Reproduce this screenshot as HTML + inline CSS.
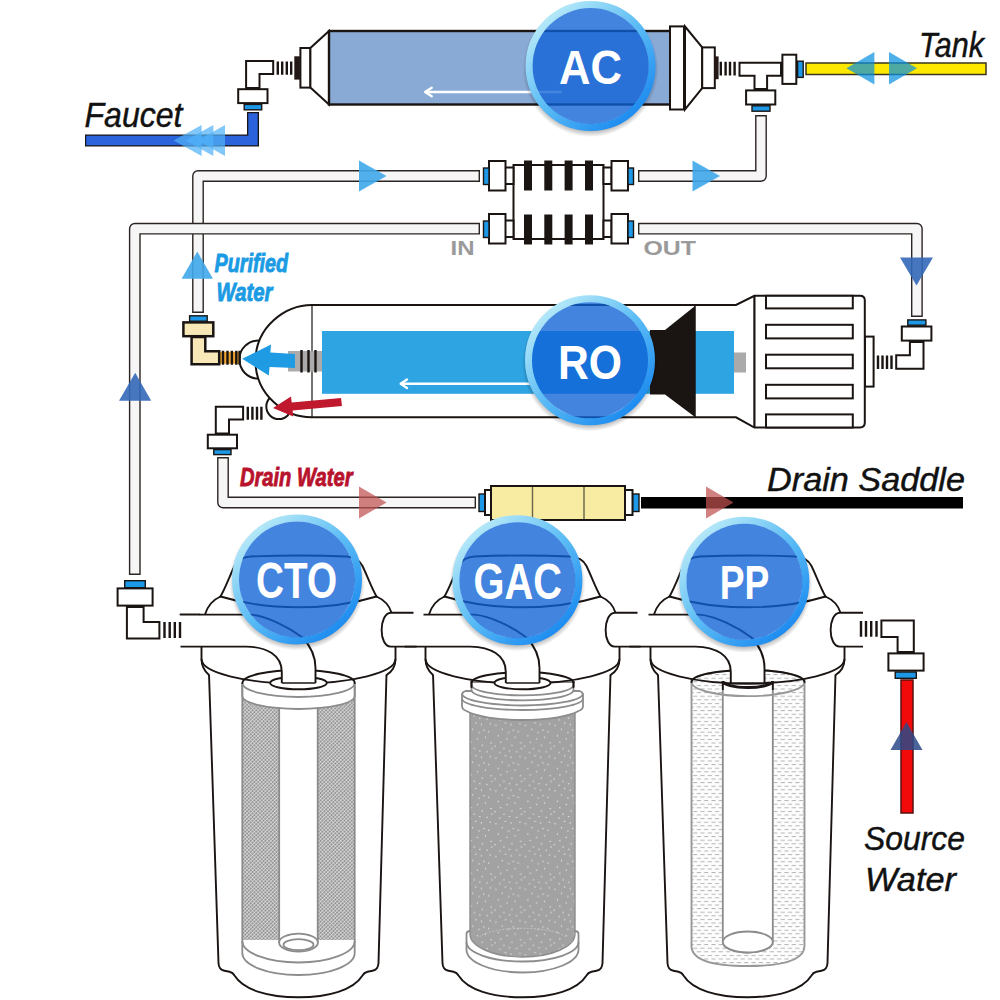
<!DOCTYPE html>
<html><head><meta charset="utf-8">
<style>
html,body{margin:0;padding:0;background:#fff;}
body{width:1000px;height:1000px;overflow:hidden;font-family:"Liberation Sans",sans-serif;}
svg{display:block;}
text{font-family:"Liberation Sans",sans-serif;}
.k{stroke:#1a1412;stroke-width:2;fill:#fff;stroke-linejoin:miter;}
.kl{stroke:#1a1412;stroke-width:2;fill:none;stroke-linejoin:round;stroke-linecap:round;}
.pipe{stroke:#2a2422;stroke-width:1.6;fill:#f6f6f6;stroke-linejoin:round;}
.bl{fill:#1c98e6;stroke:#1a1412;stroke-width:1.4;}
.thr{stroke:#1a1412;stroke-width:2.4;fill:none;}
.lbl{font-style:italic;font-size:33px;fill:#111;stroke:#111;stroke-width:0.45;}
.g{stroke:#8c8c8c;stroke-width:1.8;fill:#fff;}
.gl{stroke:#8c8c8c;stroke-width:1.8;fill:none;}
</style></head><body>
<svg width="1000" height="1000" viewBox="0 0 1000 1000">
<defs>
<linearGradient id="ring" x1="0.15" y1="0.1" x2="0.85" y2="0.9">
<stop offset="0" stop-color="#b4e8f8"/><stop offset="0.5" stop-color="#5bbcf5"/><stop offset="1" stop-color="#1e8cf0"/>
</linearGradient>
<radialGradient id="shad" cx="0.5" cy="0.5" r="0.5">
<stop offset="0.86" stop-color="#000" stop-opacity="0.42"/><stop offset="1" stop-color="#000" stop-opacity="0"/>
</radialGradient>
<clipPath id="outside"><path d="M-100 -100 H100 V100 H-100 Z M0 -64 A64 64 0 1 0 0 64 A64 64 0 1 0 0 -64 Z" clip-rule="evenodd"/></clipPath>
<g id="badge">
<circle cx="0" cy="3" r="68" fill="url(#shad)" clip-path="url(#outside)"/>
<circle cx="0" cy="0" r="61.4" fill="none" stroke="url(#ring)" stroke-width="7.2"/>
<circle cx="0" cy="0" r="58" fill="#0e62d6" fill-opacity="0.78"/>
</g>
<!--DEFS-->
</defs>
<rect width="1000" height="1000" fill="#fff"/>
<defs>
<pattern id="mesh" width="2.6" height="2.6" patternUnits="userSpaceOnUse" patternTransform="rotate(45)">
<rect width="2.6" height="2.6" fill="#969696"/>
<path d="M0 0 H2.6 M0 0 V2.6" stroke="#f2f2f2" stroke-width="1.05"/>
</pattern>
<pattern id="speck" width="37" height="41" patternTransform="scale(0.8)" patternUnits="userSpaceOnUse">
<rect width="37" height="41" fill="#a2a2a2"/>
<g fill="#f4f4f4">
<rect x="3" y="4" width="1.4" height="1.4"/><rect x="11" y="9" width="1.4" height="1.4"/><rect x="22" y="3" width="1.4" height="1.4"/><rect x="31" y="12" width="1.4" height="1.4"/>
<rect x="6" y="17" width="1.4" height="1.4"/><rect x="17" y="21" width="1.4" height="1.4"/><rect x="27" y="19" width="1.4" height="1.4"/><rect x="34" y="26" width="1.4" height="1.4"/>
<rect x="2" y="30" width="1.4" height="1.4"/><rect x="13" y="33" width="1.4" height="1.4"/><rect x="23" y="29" width="1.4" height="1.4"/><rect x="29" y="37" width="1.4" height="1.4"/>
<rect x="8" y="38" width="1.4" height="1.4"/><rect x="19" y="13" width="1.4" height="1.4"/><rect x="15" y="1" width="1.4" height="1.4"/><rect x="33" y="2" width="1.4" height="1.4"/>
<rect x="25" y="10" width="1.4" height="1.4"/><rect x="9" y="25" width="1.4" height="1.4"/><rect x="20" y="36" width="1.4" height="1.4"/><rect x="35" y="33" width="1.4" height="1.4"/>
</g>
</pattern>
<pattern id="dash" width="7.3" height="7.2" patternUnits="userSpaceOnUse">
<rect width="7.3" height="7.2" fill="#fdfdfd"/>
<rect x="0.4" y="1" width="4.2" height="0.9" fill="#adadad"/>
<rect x="4" y="4.6" width="4.2" height="0.9" fill="#adadad"/>
<rect x="-3.3" y="4.6" width="4.2" height="0.9" fill="#adadad"/>
</pattern>
<!-- housing: local x origin at centre -->
<g id="hbowl">
<path d="M-89.5 674 L-80 963 C-79.8 968 -78 970 -74 970.8 L-69 971.8 C-66 972.5 -65 973.5 -64 975.5 C-55 990 -30 997.3 0 997.3 C30 997.3 55 990 64 975.5 C65 973.5 66 972.5 69 971.8 L74 970.8 C78 970 79.8 968 80 963 L88 674 Z" fill="#fff" stroke="#1a1412" stroke-width="1.9" stroke-linejoin="round"/>
</g>
<g id="hcap">
<!-- silhouette fill -->
<path d="M-64 566 C-61 560 -56 557 -48 556.5 Q0 554.5 48 556.5 C56 557 61 560 64 566 C68 574 73 588 78 596.5 C86 600 91 606 93 612.8 H97 V659 C97 668 93 672 88 675 Q0 700 -89.5 675 C-93 672 -97 668 -97 659 V614.6 H-93.5 C-91 606 -86 600 -78 596.5 C-73 588 -68 574 -64 566 Z" fill="#fff" stroke="none"/>
<g fill="none" stroke="#1a1412" stroke-width="1.9" stroke-linecap="round" stroke-linejoin="round">
<!-- neck -->
<path d="M-78 596.5 C-73 588 -68 574 -64 566 C-61 560 -56 557 -48 556.5 Q0 554.5 48 556.5 C56 557 61 560 64 566 C68 574 73 588 78 596.5"/>
<path d="M-78 596.5 C-50 605 -25 607.3 0 607.3 C25 607.3 50 605 78 596.5"/>
<!-- shoulders -->
<path d="M-78 596.5 C-86 600 -91 606 -93.5 614.6"/>
<path d="M78 596.5 C86 600 91 606 93 612.8"/>
<!-- lower body sides -->
<path d="M-97 646.6 V659 C-97 668 -93 672 -89.5 675"/>
<path d="M97 646.6 V659 C97 668 93 672 88 675"/>
</g>
</g>
<path id="harc" d="M-97 659 A97 24.5 0 0 0 97 659" fill="none" stroke="#1a1412" stroke-width="1.9"/>
<g id="htube">
<path d="M-99 614.6 H-48 C-32 616 -10 627 4 637.5 C12 646 17 656 17 668 V683 H-16.7 V672 C-16.7 655 -32 647 -52 646.6 H-99 Z" fill="#fff" stroke="none"/>
<g fill="none" stroke="#1a1412" stroke-width="1.9" stroke-linecap="butt" stroke-linejoin="round">
<path d="M-99 614.6 H-48 C-32 616 -10 627 4 637.5 C12 646 17 656 17 668 V683"/>
<path d="M-118 646.6 H-52 C-32 647 -16.7 655 -16.7 672 V683"/>
<path d="M-16.7 683 H17" stroke-width="1.6"/>
</g>
</g>
<g id="hport">
<path d="M116 612.8 H92.5 C80 613 80 647 92.5 646.6 H118 V612.8 Z" fill="#fff" stroke="none"/>
<path d="M115 612.8 H92.5 C80 613 80 647 92.5 646.6 H118" fill="none" stroke="#1a1412" stroke-width="1.9"/>
</g>
</defs>
<!-- PIPES -->
<g fill="none" stroke-linejoin="round">
<!-- purified pipe: RO elbow up to connector top-left -->
<path d="M198 313 V176 H480" stroke="#2a2422" stroke-width="11.8"/>
<path d="M198 311.6 V176 H478.6" stroke="#f6f6f6" stroke-width="9"/>
<!-- lower-left long pipe: CTO elbow up to connector bottom-left -->
<path d="M134.8 575 V228.7 H480" stroke="#2a2422" stroke-width="11.8"/>
<path d="M134.8 573.6 V228.7 H478.6" stroke="#f6f6f6" stroke-width="9"/>
<!-- connector top-right to T fitting -->
<path d="M638 176 H761 V115" stroke="#2a2422" stroke-width="11.8"/>
<path d="M639.4 176 H761 V116.4" stroke="#f6f6f6" stroke-width="9"/>
<!-- connector bottom-right to RO inlet elbow -->
<path d="M638 228.7 H916.9 V317" stroke="#2a2422" stroke-width="11.8"/>
<path d="M639.4 228.7 H916.9 V315.6" stroke="#f6f6f6" stroke-width="9"/>
<!-- drain pipe -->
<path d="M223 457 V502.5 H476" stroke="#2a2422" stroke-width="11.8"/>
<path d="M223 458.4 V502.5 H474.6" stroke="#f6f6f6" stroke-width="9"/>
</g>
<!-- faucet blue pipe -->
<path d="M253 112 V140.5 H85" fill="none" stroke="#1a1412" stroke-width="12" stroke-linejoin="miter"/>
<path d="M253 113.2 V140.5 H86.2" fill="none" stroke="#2a63dc" stroke-width="9.4" stroke-linejoin="miter"/>
<!-- tank yellow pipe -->
<rect x="806" y="63" width="180" height="11.5" fill="#ffe800" stroke="#3a3420" stroke-width="1.5"/>
<!-- drain black pipe -->
<rect x="641" y="497" width="322" height="11.5" fill="#000"/>
<!-- source red pipe -->
<rect x="901" y="680" width="12" height="133" fill="#f20a0a" stroke="#5a1010" stroke-width="1.5"/>
<!-- AC FILTER -->
<g>
<!-- left end -->
<rect x="294.3" y="56.3" width="5.6" height="23.3" fill="#231815"/>
<rect x="300.4" y="48" width="10" height="39.6" class="k" stroke-width="2.3"/>
<path d="M329 31 L310.4 48 V87.6 L329 104.5 Z" class="k" stroke-width="2.3"/>
<!-- body -->
<rect x="329" y="31" width="342" height="73.5" fill="#8aaad6" stroke="#1a1412" stroke-width="2.4"/>
<!-- right end -->
<rect x="670" y="26.4" width="14" height="83.1" class="k" stroke-width="2.4"/>
<path d="M685 26.5 L702.2 47.4 V88.1 L685 109.5 Z" class="k" stroke-width="2.3" stroke-linejoin="round"/>
<rect x="702.2" y="47.4" width="12.6" height="40.7" class="k" stroke-width="2.3"/>
<rect x="714.2" y="56.4" width="4.4" height="22.8" fill="#231815"/>
<!-- white arrow -->
<path d="M425 92 H562" stroke="#fff" stroke-width="2.4" fill="none"/>
<path d="M425.2 92 l6.5 -4.3 M425.2 92 l6.5 4.3" stroke="#fff" stroke-width="2.4" fill="none" stroke-linecap="round"/>
</g>
<!-- CONNECTOR BLOCK -->
<g>
<rect x="513.5" y="165" width="90" height="74" class="k" stroke-width="1.8"/>
<g fill="#1a1412">
<rect x="524" y="160.5" width="8" height="30"/><rect x="544.3" y="160.5" width="8" height="30"/><rect x="564.6" y="160.5" width="8" height="30"/><rect x="585" y="160.5" width="8" height="30"/>
<rect x="524" y="214.5" width="8" height="30"/><rect x="544.3" y="214.5" width="8" height="30"/><rect x="564.6" y="214.5" width="8" height="30"/><rect x="585" y="214.5" width="8" height="30"/>
</g>
<!-- left connectors -->
<rect x="505" y="167.5" width="8.5" height="16.5" class="k" stroke-width="1.6"/>
<rect x="489" y="161" width="16.5" height="29.5" class="k"/>
<rect x="483.5" y="168" width="5.5" height="16.5" class="bl"/>
<rect x="505" y="220.5" width="8.5" height="16.5" class="k" stroke-width="1.6"/>
<rect x="489" y="214" width="16.5" height="29.5" class="k"/>
<rect x="483.5" y="221" width="5.5" height="16.5" class="bl"/>
<!-- right connectors -->
<rect x="603.5" y="167.5" width="8" height="16.5" class="k" stroke-width="1.6"/>
<rect x="611.5" y="161" width="16.5" height="29.5" class="k"/>
<rect x="628" y="168" width="5.5" height="16.5" class="bl"/>
<rect x="603.5" y="220.5" width="8" height="16.5" class="k" stroke-width="1.6"/>
<rect x="611.5" y="214" width="16.5" height="29.5" class="k"/>
<rect x="628" y="221" width="5.5" height="16.5" class="bl"/>
</g>
<!-- RO MEMBRANE -->
<g>
<!-- port bumps -->
<ellipse cx="258" cy="359.6" rx="18.6" ry="19" class="k"/>
<circle cx="278.8" cy="406.6" r="12.5" class="k"/>
<!-- body with dome -->
<path d="M312 305 H736 L754.4 295.8 H860 Q864.8 295.8 864.8 300.5 V422.8 Q864.8 427.5 860 427.5 H754.4 L736 417.3 H312 C285 417.5 255.5 395 255.5 361 C255.5 327 285 305 312 305 Z" class="k" stroke-width="2.2"/>
<path d="M312 305 V417.5" stroke="#1a1412" stroke-width="1.2" fill="none"/>
<path d="M754.4 295.8 V427.5" stroke="#1a1412" stroke-width="2.2" fill="none"/>
<!-- membrane -->
<rect x="322" y="331" width="412" height="62.8" fill="#2ea4e2"/>
<!-- black funnel -->
<path d="M650 330 H665 L695 306 V417 L665 394.5 H650 Z" fill="#1a1412"/>
<path d="M695 305 V417.5" stroke="#1a1412" stroke-width="1.5" fill="none"/>
<rect x="734" y="352.5" width="12" height="20" fill="#aaaaaa"/>
<!-- gray coupling -->
<rect x="288" y="351" width="34" height="20.5" fill="#ababab"/>
<path d="M301.5 350 V372.5 M308.5 350 V372.5 M315.5 350 V372.5" stroke="#1a1412" stroke-width="2.4" fill="none"/>
<!-- white arrow -->
<path d="M400.5 383.7 H532" stroke="#fff" stroke-width="2.6" fill="none"/>
<path d="M400.7 383.7 l6.3 -4.3 M400.7 383.7 l6.3 4.3" stroke="#fff" stroke-width="2.4" fill="none" stroke-linecap="round"/>
<!-- blue arrow -->
<path d="M242.2 358.8 L271 344.5 L270.4 352.6 L295 354 V368 L269.6 367 L268.8 375.6 Z" fill="#1e9be2"/>
<!-- red arrow -->
<path d="M273 408 L291 396.5 L291.7 402.5 L341 398 L342 406 L292.6 410.5 L293.3 416.5 Z" fill="#c0182c"/>
<!-- end cap ribs -->
<g class="k" stroke-width="1.8">
<rect x="766" y="295.8" width="86.8" height="12.6"/>
<rect x="766" y="324.8" width="86.8" height="13.6"/>
<rect x="766" y="354.7" width="86.8" height="13.6"/>
<rect x="766" y="384.8" width="86.8" height="13.6"/>
<rect x="766" y="414.4" width="86.8" height="13.1"/>
</g>
<rect x="865" y="336.6" width="8.6" height="50" class="k" stroke-width="2.2"/>
</g>
<!-- FLOW RESTRICTOR -->
<g>
<rect x="479" y="494" width="6.5" height="17.5" class="bl"/>
<rect x="632.5" y="494" width="6.5" height="17.5" class="bl"/>
<rect x="485" y="490" width="7" height="25" class="k" stroke-width="1.6"/>
<rect x="625" y="490" width="7.5" height="25" class="k" stroke-width="1.6"/>
<rect x="491" y="486" width="134" height="34" fill="#f8eca2" stroke="#1a1412" stroke-width="2"/>
<path d="M532.5 487 V519 M584 487 V519" stroke="#6a6448" stroke-width="1.4" fill="none"/>
</g>
<!-- HOUSINGS -->
<!-- ===== CTO ===== -->
<g transform="translate(298.5 0)">
<use href="#hbowl"/><use href="#hcap"/>
<!-- cartridge -->
<path d="M-56.2 696 A56.2 13 0 0 0 56.2 696 V940 H-56.2 Z" fill="url(#mesh)"/>
<path d="M-19.3 700 H19.2 V946 H-19.3 Z" fill="#fff"/>
<path d="M-56.2 683 A56.2 14 0 0 0 56.2 683 V696 A56.2 13 0 0 1 -56.2 696 Z" class="g"/>
<path d="M-56.2 683 V953 A56.2 22 0 0 0 56.2 953 V683" class="gl"/>
<path d="M-56.2 941 A56.2 21.5 0 0 0 56.2 941" class="gl"/>
<path d="M-19.3 707.5 V943 M19.2 707.5 V943" class="gl"/>
<ellipse cx="0" cy="942.6" rx="19.4" ry="9" class="g"/>
<ellipse cx="0" cy="944.7" rx="15" ry="5.5" class="g"/>
<path d="M-56.2 683 A56.2 13 0 0 1 56.2 683" class="kl" stroke-width="1.9"/>
<use href="#harc"/>
<ellipse cx="0" cy="683" rx="28.3" ry="6.3" fill="#fff" stroke="#1a1412" stroke-width="1.9"/>
<use href="#htube"/>
<path d="M-118 614.6 H-99" class="kl" stroke-width="1.9" stroke-linecap="butt"/>
<use href="#hport"/>
</g>
<!-- ===== GAC ===== -->
<g transform="translate(522.5 0)">
<use href="#hbowl"/><use href="#hcap"/>
<!-- bottom cap -->
<path d="M-56 934 Q-56 931.5 -53 931 H53 Q56 931.5 56 934 V949.5 A56 23 0 0 1 -56 949.5 Z" class="g"/>
<path d="M-56 942 A56 19.5 0 0 0 56 942" class="gl"/>
<!-- body -->
<path d="M-52.5 705 V934 A52.5 23 0 0 0 52.5 934 V705 Z" fill="url(#speck)" stroke="#8c8c8c" stroke-width="1.4"/>
<path d="M-43 937 A44 11 0 0 1 43 937" fill="none" stroke="#d0d0d0" stroke-width="0.7" stroke-dasharray="2 1.5"/>
<!-- wide ring -->
<path d="M-60.5 695 Q-60.5 692 -57 691 H57 Q60.5 692 60.5 695 V706 Q60.5 709.5 56 711 A60.5 14.5 0 0 1 -56 711 Q-60.5 709.5 -60.5 706 Z" class="g"/>
<path d="M-60.5 693.5 A60.5 12 0 0 0 60.5 693.5" class="gl"/>
<path d="M-60.5 698.5 A60.5 11.5 0 0 0 60.5 698.5" class="gl"/>
<!-- narrow ring -->
<path d="M-51 682 V690 A51 10.4 0 0 0 51 690 V682 Z" class="g"/>
<path d="M-51 685 A51 10.4 0 0 0 51 685" class="gl"/>
<path d="M-51 682.5 A51 10.4 0 0 1 51 682.5" class="kl" stroke-width="1.9"/>
<path d="M-51 682 V687 M51 682 V687" class="kl" stroke-width="1.6"/>
<use href="#harc"/>
<ellipse cx="0" cy="683" rx="28" ry="6.3" fill="#fff" stroke="#1a1412" stroke-width="1.9"/>
<use href="#htube"/>
<use href="#hport"/>
</g>
<!-- ===== PP ===== -->
<g transform="translate(747.5 0)">
<use href="#hbowl"/><use href="#hcap"/>
<path d="M-56 682 A56 12 0 0 1 57 682 V946 Q57 966 0 966 Q-56 966 -56 946 Z" fill="url(#dash)" stroke="#989898" stroke-width="1.9"/>
<path d="M-24.7 684 V942 A25 10.5 0 0 0 25.3 942 V684 Z" fill="#fff" stroke="#8c8c8c" stroke-width="1.8"/>
<ellipse cx="0.3" cy="942" rx="25" ry="10.5" fill="#fff" stroke="#8c8c8c" stroke-width="1.8"/>
<path d="M-56 682 A56 14 0 0 0 57 682" fill="none" stroke="#989898" stroke-width="1.9"/>
<path d="M-24.7 682 V690 M25.3 682 V690" stroke="#1a1412" stroke-width="1.8" fill="none"/>
<path d="M-56 682 A56 12 0 0 1 57 682" class="kl" stroke-width="1.9"/>
<use href="#harc"/>
<use href="#htube"/>
<path d="M-24.7 681 A25 6.5 0 0 0 25.3 681" fill="none" stroke="#1a1412" stroke-width="3"/>
<path d="M92.5 612.8 C80 613 80 647 92.5 646.6 H115.5 V612.8 Z" fill="#fff" stroke="none"/>
<path d="M115.5 612.8 H92.5 C80 613 80 647 92.5 646.6 H115.5" fill="none" stroke="#1a1412" stroke-width="1.9"/>
</g>
<!-- FITTINGS -->
<g stroke-width="2.6">
<!-- AC left elbow -->
<path d="M277.8 61.5 V74.8 M282.2 61.5 V74.8 M286.8 61.5 V74.8 M291.2 61.5 V74.8" class="thr" stroke-width="1.9"/>
<path d="M246.1 61.1 H273.2 V73.9 H259.5 V88 H246.1 Z" class="k" stroke-width="2.6"/>
<rect x="238.2" y="89.2" width="29.3" height="13.9" class="k" stroke-width="2.6"/>
<rect x="244.2" y="104.4" width="17.5" height="5.4" class="bl"/>
<!-- AC right T -->
<path d="M720.8 61.8 V75.6 M725.6 61.8 V75.6 M730 61.8 V75.6 M734.6 61.8 V75.6" class="thr" stroke-width="1.9"/>
<path d="M739.5 62.7 H781 V75.7 H767.1 V89 H754.5 V75.7 H739.5 Z" class="k" stroke-width="2.6"/>
<rect x="782.4" y="54.7" width="13.9" height="29.2" class="k" stroke-width="2.6"/>
<rect x="797.6" y="61.2" width="5.6" height="16.2" class="bl"/>
<rect x="746.1" y="90.4" width="29.2" height="14.1" class="k" stroke-width="2.6"/>
<rect x="752" y="105.8" width="18" height="5.4" class="bl"/>
<!-- RO purified cream elbow -->
<rect x="220" y="351.8" width="19.7" height="12" fill="#f0a434"/>
<path d="M223 350.8 V364.7 M227.5 350.8 V364.7 M231.9 350.8 V364.7 M236.3 350.8 V364.7 M239.6 350.8 V364.7" class="thr" stroke-width="1.7"/>
<path d="M191.6 337 H205.3 V351.3 H219.2 V364.2 H191.6 Z" fill="#f8e8b8" stroke="#1a1412" stroke-width="2.5"/>
<rect x="183.4" y="322.4" width="29.9" height="13.8" fill="#f8e8b8" stroke="#1a1412" stroke-width="2.5"/>
<rect x="189.6" y="315.8" width="17.6" height="5.4" class="bl"/>
<!-- RO drain white elbow -->
<path d="M247.8 406.7 V419.8 M252.4 406.7 V419.8 M257 406.7 V419.8 M261.4 406.7 V419.8" class="thr" stroke-width="1.9"/>
<path d="M215.8 406.7 H243.1 V419.4 H229 V433.4 H215.8 Z" class="k" stroke-width="2.6"/>
<rect x="207.8" y="434.7" width="29.2" height="13.6" class="k" stroke-width="2.6"/>
<rect x="213.8" y="449.6" width="17.2" height="5" class="bl"/>
<!-- RO inlet elbow (right) -->
<path d="M878 355.4 V368.9 M882.5 355.4 V368.9 M887 355.4 V368.9 M891.5 355.4 V368.9" class="thr" stroke-width="1.9"/>
<path d="M909.9 341.9 H923.5 V368.7 H896.2 V355.3 H909.9 Z" class="k" stroke-width="2.6"/>
<rect x="901.8" y="326.5" width="29.6" height="14.1" class="k" stroke-width="2.6"/>
<rect x="907.8" y="319.9" width="18.1" height="5.3" class="bl"/>
<!-- CTO inlet elbow (left) -->
<path d="M164.5 622 V638 M169.7 622 V638 M174.8 622 V638 M180 622 V638" class="thr" stroke-width="2"/>
<path d="M126.9 607 H143.6 V621.9 H159.4 V638.6 H126.9 Z" class="k" stroke-width="2.8"/>
<rect x="117.6" y="588.4" width="35" height="17.2" class="k" stroke-width="2.8"/>
<rect x="124.7" y="580.7" width="20.6" height="7" class="bl"/>
<!-- PP source elbow (right) -->
<path d="M861 621 V636.8 M866 621 V636.8 M871.2 621 V636.8 M876.5 621 V636.8" class="thr" stroke-width="2"/>
<path d="M881.4 620.6 H913.8 V652 H897.6 V637.1 H881.4 Z" class="k" stroke-width="2.8"/>
<rect x="888.4" y="653.4" width="35.2" height="17.2" class="k" stroke-width="2.8"/>
<rect x="895.2" y="672" width="21.1" height="6.3" class="bl"/>
</g>
<!-- ARROWS -->
<g>
<!-- faucet triple -->
<g fill="#52b2f6" fill-opacity="0.72">
<path d="M173.6 140.4 L201.6 125 V156 Z"/>
<path d="M185.6 140.4 L213.3 125 V156 Z"/>
<path d="M197.6 140.4 L225 125 V156 Z"/>
</g>
<!-- tank double -->
<g fill="#0a90e0" fill-opacity="0.72">
<path d="M846.4 68.2 L874.4 52 V84.4 Z"/>
<path d="M917 68.2 L889 52 V84.4 Z"/>
</g>
<!-- light blue right arrows on top pipe -->
<g fill="#3fa9ea" fill-opacity="0.9">
<path d="M386.5 176 L359 160.5 V191.5 Z"/>
<path d="M720 176 L692.5 160.5 V191.5 Z"/>
<!-- purified up -->
<path d="M197.3 251.5 L213 278.8 H181.6 Z"/>
</g>
<!-- dark blue arrows -->
<g fill="#3268b8" fill-opacity="0.9">
<path d="M135.2 372.8 L151.2 400.8 H119 Z"/>
<path d="M916.5 285.5 L900 257.5 H933 Z"/>
</g>
<path d="M906.5 722 L922.5 750 H890.5 Z" fill="#2c4a8a" fill-opacity="0.85"/>
<!-- red arrows -->
<path d="M386.6 502.5 L359 486.6 V518.4 Z" fill="#c05050" fill-opacity="0.72"/>
<path d="M733.5 502.5 L706 486.6 V518.4 Z" fill="#c05050" fill-opacity="0.72"/>
</g>
<!-- BADGES -->
<g font-weight="bold" fill="#fff" text-anchor="middle">
<use href="#badge" x="590.6" y="66"/>
<text x="590.5" y="83.6" font-size="49" textLength="63" lengthAdjust="spacingAndGlyphs">AC</text>
<use href="#badge" x="590" y="360.3"/>
<text x="590" y="379" font-size="48.5" textLength="64" lengthAdjust="spacingAndGlyphs">RO</text>
<use href="#badge" x="297" y="579.4"/>
<text x="296.5" y="598.4" font-size="50" textLength="81" lengthAdjust="spacingAndGlyphs">CTO</text>
<use href="#badge" x="517.4" y="580.2"/>
<text x="517.8" y="598.9" font-size="50" textLength="88.4" lengthAdjust="spacingAndGlyphs">GAC</text>
<use href="#badge" x="744.4" y="581.8"/>
<text x="744.5" y="598.9" font-size="48" textLength="49.6" lengthAdjust="spacingAndGlyphs">PP</text>
</g>
<!-- TEXT -->
<g class="lbl">
<text x="84.5" y="127" font-size="35" textLength="98" lengthAdjust="spacingAndGlyphs">Faucet</text>
<text x="919" y="57" font-size="35" textLength="65" lengthAdjust="spacingAndGlyphs">Tank</text>
<text x="767" y="491" font-size="34" textLength="198" lengthAdjust="spacingAndGlyphs">Drain Saddle</text>
<text x="864" y="850" font-size="34" textLength="101" lengthAdjust="spacingAndGlyphs">Source</text>
<text x="865" y="891" font-size="34" textLength="91" lengthAdjust="spacingAndGlyphs">Water</text>
</g>
<g font-weight="bold" font-style="italic">
<text x="214.5" y="272.4" font-size="26" fill="#1b9be3" stroke="#1b9be3" stroke-width="0.9" textLength="73.5" lengthAdjust="spacingAndGlyphs">Purified</text>
<text x="216.5" y="301.2" font-size="26" fill="#1b9be3" stroke="#1b9be3" stroke-width="0.9" textLength="56" lengthAdjust="spacingAndGlyphs">Water</text>
<text x="240" y="486" font-size="26.5" fill="#b8122c" stroke="#b8122c" stroke-width="0.9" textLength="112.5" lengthAdjust="spacingAndGlyphs">Drain Water</text>
</g>
<g font-weight="bold" fill="#9a9a9a" font-size="19.5">
<text x="450.5" y="254.6" textLength="24" lengthAdjust="spacingAndGlyphs">IN</text>
<text x="643.5" y="254.6" textLength="52.5" lengthAdjust="spacingAndGlyphs">OUT</text>
</g>
</svg>
</body></html>
